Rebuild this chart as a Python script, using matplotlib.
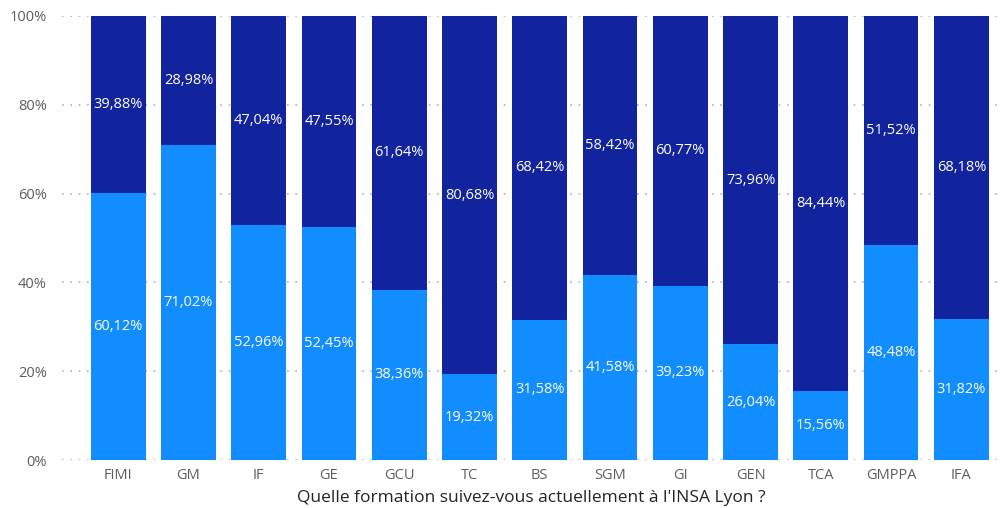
import numpy as np
import matplotlib.pyplot as plt

formations = ['FIMI', 'GM', 'IF', 'GE', 'GCU', 'TC', 'BS', 'SGM', 'GI', 'GEN', 'TCA', 'GMPPA', 'IFA']
bottom_pct = [60.12, 71.02, 52.96, 52.45, 38.36, 19.32, 31.58, 41.58, 39.23, 26.04, 15.56, 48.48, 31.82]
top_pct = [39.88, 28.98, 47.04, 47.55, 61.64, 80.68, 68.42, 58.42, 60.77, 73.96, 84.44, 51.52, 68.18]

light = '#118DFF'
dark = '#12239E'

plt.rcParams['font.family'] = ['Open Sans', 'DejaVu Sans']

fig = plt.figure(figsize=(10.04, 5.08), dpi=100)
ax = fig.add_axes([62 / 1004, 1 - 460 / 508, 938 / 1004, 444 / 508])

x = np.arange(len(formations))
b = np.array(bottom_pct)
t = np.array(top_pct)
w = 0.78
ax.bar(x, b, width=w, color=light, zorder=2)
ax.bar(x, t, width=w, bottom=b, color=dark, zorder=2)

fmt = lambda v: f'{v:.2f}%'.replace('.', ',')
for i in range(len(x)):
    ax.text(x[i], b[i] / 2, fmt(b[i]), ha='center', va='center', color='white', fontsize=10.5, zorder=3)
    ax.text(x[i], b[i] + t[i] / 2, fmt(t[i]), ha='center', va='center', color='white', fontsize=10.5, zorder=3)

ax.set_xlim(-0.8, 12.55)
ax.set_ylim(0, 100)
ax.set_yticks(range(0, 101, 20))
ax.set_yticklabels([f'{v}%' for v in range(0, 101, 20)])
ax.set_xticks(x)
ax.set_xticklabels(formations)
ax.tick_params(length=0, colors='#605E5C', labelsize=10.5)
ax.tick_params(axis='y', pad=11)
ax.tick_params(axis='x', pad=6)
ax.grid(axis='y', color='#B3B0AD', linestyle=(0, (1, 4)), linewidth=1.2, zorder=0)
for s in ax.spines.values():
    s.set_visible(False)
ax.set_xlabel("Quelle formation suivez-vous actuellement à l'INSA Lyon ?", fontsize=12.5, color='#252423', labelpad=5)

fig.savefig('out.png', dpi=100)
